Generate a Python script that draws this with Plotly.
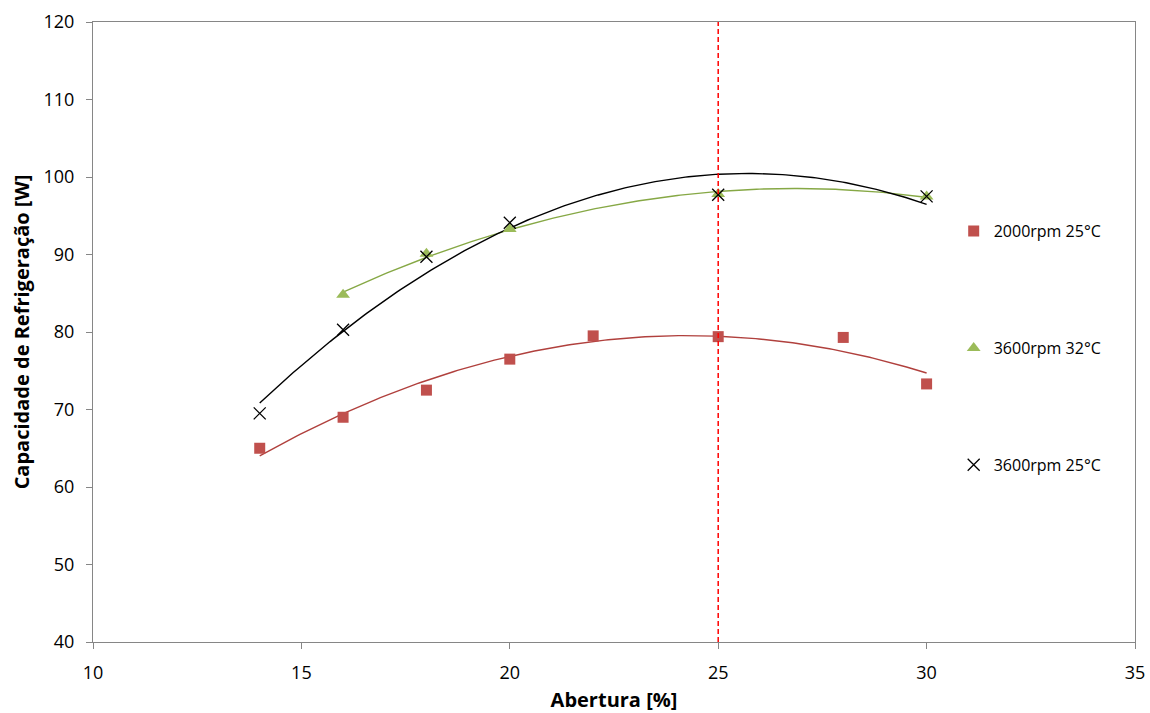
import numpy as np
import plotly.graph_objects as go

# Measured refrigeration capacity vs. valve opening
abertura_2000_25 = [14, 16, 18, 20, 22, 25, 28, 30]
cap_2000_25 = [65.0, 69.0, 72.5, 76.5, 79.5, 79.4, 79.3, 73.3]

abertura_3600_32 = [16, 18, 20, 25, 30]
cap_3600_32 = [84.8, 90.1, 93.3, 97.8, 97.5]

abertura_3600_25 = [14, 16, 18, 20, 25, 30]
cap_3600_25 = [69.5, 80.3, 89.7, 94.1, 97.7, 97.5]

series_names = ["2000rpm 25°C", "3600rpm 32°C", "3600rpm 25°C"]
abertura_ref = 25

FONT = "'Open Sans', sans-serif"

series = [
    (abertura_2000_25, cap_2000_25, series_names[0],
     dict(symbol="square", size=11, color="#C0504D"), "#B0403D"),
    (abertura_3600_32, cap_3600_32, series_names[1],
     dict(symbol="triangle-up", size=12, color="#9BBB59"), "#86A845"),
    (abertura_3600_25, cap_3600_25, series_names[2],
     dict(symbol="x-thin-open", size=12, color="#000000",
          line=dict(width=1.3, color="#000000")), "#000000"),
]

fig = go.Figure()

# Second-order polynomial trendlines
for xs, ys, name, marker, lcolor in series:
    coef = np.polyfit(xs, ys, 2)
    xt = np.linspace(min(xs), max(xs), 200)
    fig.add_trace(go.Scatter(
        x=xt, y=np.polyval(coef, xt), mode="lines",
        line=dict(color=lcolor, width=1.4),
        showlegend=False, hoverinfo="skip",
    ))

for i, (xs, ys, name, marker, lcolor) in enumerate(series):
    fig.add_trace(go.Scatter(
        x=xs, y=ys, mode="markers", name=name, marker=marker,
        legendgroup=f"g{i}",
    ))

# Reference opening
fig.add_shape(
    type="line", xref="x", yref="paper", x0=abertura_ref, x1=abertura_ref,
    y0=0, y1=1, layer="above",
    line=dict(color="#FF0000", width=1.5, dash="5px,3px"),
)

axis_common = dict(
    showgrid=False, zeroline=False, showline=True, linecolor="#868686",
    linewidth=1, mirror=True, ticks="outside", ticklen=6,
    tickcolor="#868686", tickfont=dict(family=FONT, size=18, color="#000"),
    ticklabelstandoff=8, automargin=False,
)

fig.update_layout(
    width=1150, height=713,
    margin=dict(l=93, r=15, t=22, b=71),
    paper_bgcolor="white", plot_bgcolor="white",
    font=dict(family=FONT, color="#000"),
    xaxis=dict(range=[10, 35], dtick=5,
               title=dict(text="<b>Abertura [%]</b>", standoff=16,
                          font=dict(family=FONT, size=20)),
               **axis_common),
    yaxis=dict(range=[40, 120], dtick=10,
               title=dict(text="<b>Capacidade de Refrigeração [W]</b>",
                          standoff=8, font=dict(family=FONT, size=20)),
               **axis_common),
    legend=dict(
        x=0.826, y=0.69, xanchor="left", yanchor="top",
        bgcolor="rgba(0,0,0,0)", tracegroupgap=93,
        font=dict(family=FONT, size=16), itemwidth=30,
    ),
)

fig.write_html("out.html")
